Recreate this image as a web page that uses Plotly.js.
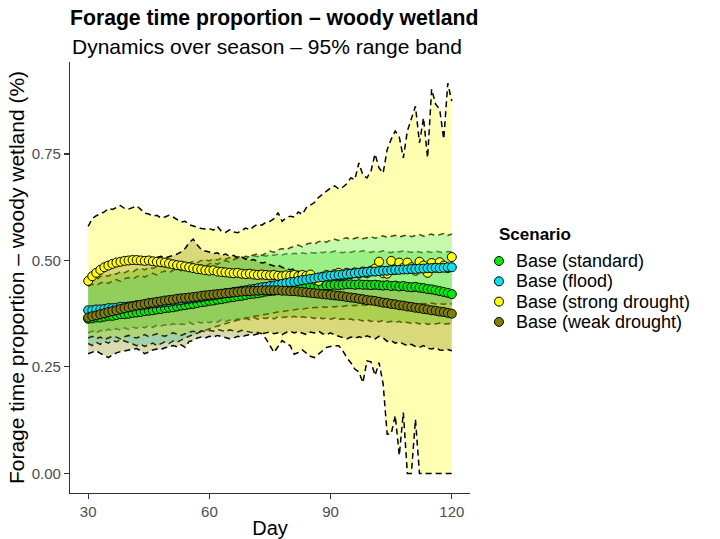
<!DOCTYPE html>
<html>
<head>
<meta charset="utf-8">
<script src="https://cdn.plot.ly/plotly-3.0.1.min.js"></script>
<style>html,body{margin:0;padding:0;background:#fff;}#chart{width:720px;height:539px;}</style>
</head>
<body>
<div id="chart"></div>
<script>
// ---- Data ----
const days = [];
for (let d = 30; d <= 120; d++) days.push(d);

const scenarios = ["Base (standard)", "Base (flood)", "Base (strong drought)", "Base (weak drought)"];
const xTicks = [30, 60, 90, 120];
const yTicks = [0, 0.25, 0.5, 0.75];
const yTickText = ["0.00", "0.25", "0.50", "0.75"];

// Base (standard)
const stdMean = [
0.363,0.364,0.366,0.366,0.368,0.370,0.370,0.372,0.374,0.374,
0.375,0.377,0.378,0.379,0.381,0.382,0.383,0.385,0.386,0.388,
0.389,0.390,0.392,0.394,0.395,0.397,0.398,0.400,0.402,0.403,
0.405,0.406,0.408,0.409,0.411,0.413,0.414,0.416,0.417,0.419,
0.421,0.422,0.423,0.425,0.427,0.428,0.429,0.431,0.432,0.434,
0.435,0.436,0.437,0.438,0.439,0.440,0.440,0.441,0.441,0.442,
0.442,0.443,0.442,0.443,0.444,0.444,0.443,0.444,0.443,0.443,
0.442,0.443,0.442,0.441,0.442,0.440,0.441,0.439,0.440,0.438,
0.437,0.438,0.436,0.435,0.433,0.432,0.430,0.428,0.426,0.424,
0.421];
const stdLo = [
0.330,0.334,0.329,0.336,0.333,0.339,0.335,0.340,0.336,0.342,
0.338,0.343,0.341,0.344,0.342,0.347,0.343,0.348,0.346,0.349,
0.347,0.352,0.348,0.351,0.350,0.355,0.350,0.356,0.353,0.357,
0.354,0.358,0.355,0.361,0.357,0.360,0.359,0.363,0.360,0.364,
0.361,0.366,0.362,0.365,0.364,0.367,0.363,0.368,0.366,0.368,
0.366,0.369,0.365,0.368,0.366,0.367,0.364,0.367,0.363,0.365,
0.362,0.365,0.361,0.363,0.360,0.363,0.359,0.361,0.358,0.361,
0.357,0.359,0.356,0.359,0.355,0.357,0.354,0.357,0.353,0.355,
0.352,0.354,0.351,0.354,0.350,0.352,0.351,0.353,0.350,0.352,
0.351];
const stdHi = [
0.452,0.458,0.455,0.462,0.466,0.463,0.470,0.468,0.474,0.471,
0.476,0.473,0.479,0.482,0.478,0.484,0.481,0.486,0.489,0.485,
0.490,0.487,0.493,0.491,0.496,0.494,0.498,0.495,0.500,0.502,
0.499,0.504,0.501,0.506,0.503,0.507,0.505,0.509,0.506,0.510,
0.508,0.511,0.509,0.513,0.510,0.514,0.512,0.515,0.513,0.516,
0.514,0.517,0.515,0.518,0.516,0.519,0.517,0.520,0.518,0.521,
0.519,0.522,0.520,0.518,0.521,0.519,0.522,0.520,0.523,0.521,
0.519,0.522,0.520,0.523,0.521,0.518,0.522,0.520,0.523,0.521,
0.519,0.522,0.520,0.518,0.521,0.519,0.522,0.520,0.518,0.521,
0.520];

// Base (flood)
const floodMean = [
0.383,0.383,0.385,0.385,0.386,0.388,0.388,0.389,0.391,0.391,
0.392,0.393,0.395,0.395,0.396,0.398,0.399,0.400,0.401,0.402,
0.403,0.405,0.406,0.407,0.409,0.410,0.411,0.413,0.414,0.416,
0.417,0.418,0.420,0.421,0.423,0.424,0.426,0.427,0.429,0.430,
0.432,0.433,0.435,0.437,0.438,0.440,0.441,0.443,0.445,0.447,
0.449,0.450,0.452,0.454,0.455,0.457,0.458,0.460,0.461,0.463,
0.464,0.465,0.466,0.467,0.468,0.469,0.470,0.471,0.472,0.473,
0.474,0.474,0.475,0.476,0.476,0.477,0.478,0.478,0.479,0.479,
0.480,0.480,0.481,0.481,0.482,0.482,0.483,0.482,0.483,0.484,
0.484];
const floodLo = [
0.305,0.300,0.308,0.303,0.310,0.306,0.312,0.309,0.314,0.311,
0.308,0.304,0.300,0.303,0.298,0.302,0.306,0.300,0.304,0.309,
0.305,0.311,0.308,0.314,0.318,0.322,0.326,0.330,0.333,0.336,
0.340,0.343,0.346,0.349,0.352,0.355,0.357,0.360,0.362,0.365,
0.366,0.369,0.370,0.372,0.374,0.376,0.377,0.379,0.380,0.382,
0.383,0.384,0.386,0.385,0.388,0.387,0.390,0.389,0.391,0.390,
0.392,0.391,0.393,0.392,0.394,0.393,0.395,0.394,0.396,0.395,
0.397,0.396,0.398,0.397,0.396,0.398,0.397,0.399,0.398,0.397,
0.399,0.398,0.397,0.399,0.398,0.400,0.398,0.399,0.397,0.399,
0.398];
const floodHi = [
0.440,0.444,0.441,0.447,0.450,0.446,0.452,0.455,0.451,0.457,
0.460,0.456,0.462,0.465,0.461,0.467,0.470,0.466,0.472,0.475,
0.471,0.477,0.480,0.476,0.482,0.485,0.481,0.487,0.490,0.486,
0.492,0.495,0.491,0.497,0.500,0.496,0.502,0.505,0.508,0.504,
0.510,0.513,0.516,0.512,0.518,0.522,0.519,0.525,0.528,0.524,
0.530,0.533,0.536,0.532,0.538,0.541,0.538,0.544,0.546,0.543,
0.548,0.550,0.547,0.551,0.553,0.549,0.552,0.555,0.551,0.554,
0.556,0.552,0.555,0.558,0.554,0.557,0.559,0.555,0.558,0.560,
0.556,0.559,0.561,0.557,0.560,0.562,0.558,0.561,0.563,0.559,
0.562];

// Base (strong drought)
const strongMean = [
0.452,0.463,0.471,0.478,0.484,0.488,0.492,0.495,0.497,0.499,
0.500,0.501,0.501,0.500,0.499,0.500,0.498,0.497,0.496,0.495,
0.493,0.491,0.489,0.488,0.486,0.484,0.482,0.480,0.479,0.477,
0.476,0.477,0.474,0.473,0.472,0.471,0.470,0.471,0.469,0.468,
0.469,0.467,0.466,0.467,0.466,0.465,0.466,0.464,0.463,0.465,
0.464,0.466,0.463,0.466,0.464,0.467,0.455,0.452,0.462,0.466,
0.462,0.468,0.471,0.466,0.471,0.468,0.472,0.469,0.474,0.470,
0.476,0.481,0.497,0.470,0.469,0.499,0.478,0.495,0.483,0.495,
0.484,0.476,0.497,0.488,0.471,0.494,0.483,0.496,0.488,0.482,
0.508];
const strongLo = [
0.318,0.322,0.316,0.320,0.314,0.318,0.322,0.320,0.316,0.321,
0.324,0.320,0.318,0.322,0.326,0.321,0.325,0.328,0.324,0.322,
0.326,0.330,0.327,0.324,0.328,0.332,0.334,0.330,0.335,0.333,
0.336,0.334,0.338,0.335,0.333,0.337,0.335,0.332,0.336,0.334,
0.333,0.330,0.331,0.328,0.316,0.300,0.284,0.298,0.312,0.305,
0.300,0.280,0.284,0.290,0.282,0.275,0.272,0.280,0.290,0.296,
0.298,0.300,0.300,0.288,0.272,0.260,0.245,0.238,0.213,0.264,
0.262,0.230,0.260,0.210,0.092,0.093,0.136,0.042,0.143,0.000,
0.000,0.127,0.000,0.000,0.000,0.000,0.000,0.000,0.000,0.000,
0.000];
const strongHi = [
0.580,0.598,0.605,0.610,0.614,0.622,0.620,0.624,0.629,0.622,
0.621,0.624,0.628,0.620,0.611,0.609,0.604,0.606,0.600,0.602,
0.606,0.602,0.596,0.590,0.592,0.584,0.581,0.578,0.575,0.574,
0.575,0.571,0.580,0.568,0.566,0.572,0.567,0.565,0.570,0.576,
0.572,0.580,0.585,0.583,0.590,0.592,0.598,0.612,0.592,0.600,
0.604,0.602,0.614,0.608,0.624,0.630,0.636,0.648,0.655,0.664,
0.670,0.675,0.668,0.672,0.680,0.694,0.690,0.729,0.700,0.694,
0.710,0.750,0.717,0.705,0.760,0.785,0.804,0.790,0.741,0.804,
0.835,0.862,0.776,0.835,0.741,0.902,0.867,0.855,0.785,0.916,
0.874];

// Base (weak drought)
const weakMean = [
0.366,0.369,0.371,0.374,0.376,0.379,0.381,0.383,0.386,0.388,
0.390,0.392,0.394,0.396,0.398,0.400,0.401,0.403,0.404,0.406,
0.407,0.408,0.410,0.411,0.412,0.413,0.414,0.415,0.417,0.418,
0.419,0.420,0.421,0.422,0.423,0.424,0.425,0.426,0.427,0.428,
0.428,0.429,0.429,0.430,0.430,0.430,0.430,0.430,0.429,0.429,
0.428,0.428,0.427,0.426,0.425,0.424,0.423,0.422,0.421,0.420,
0.419,0.418,0.417,0.416,0.414,0.413,0.412,0.410,0.409,0.407,
0.406,0.405,0.403,0.401,0.400,0.398,0.397,0.395,0.394,0.392,
0.391,0.389,0.388,0.386,0.385,0.383,0.382,0.380,0.379,0.377,
0.375];
const weakLo = [
0.281,0.285,0.288,0.282,0.276,0.272,0.278,0.283,0.286,0.288,
0.290,0.292,0.293,0.288,0.281,0.285,0.290,0.292,0.291,0.295,
0.298,0.300,0.297,0.302,0.296,0.310,0.312,0.318,0.320,0.318,
0.322,0.320,0.324,0.321,0.318,0.316,0.318,0.322,0.320,0.324,
0.326,0.325,0.328,0.328,0.330,0.332,0.328,0.330,0.326,0.331,
0.334,0.330,0.333,0.329,0.326,0.332,0.330,0.334,0.328,0.326,
0.330,0.325,0.322,0.318,0.316,0.320,0.317,0.321,0.318,0.323,
0.320,0.316,0.322,0.318,0.310,0.312,0.306,0.309,0.304,0.300,
0.303,0.298,0.296,0.300,0.294,0.292,0.295,0.290,0.289,0.291,
0.288];
const weakHi = [
0.440,0.452,0.463,0.470,0.478,0.486,0.490,0.494,0.498,0.502,
0.500,0.503,0.506,0.502,0.505,0.508,0.504,0.507,0.510,0.506,
0.509,0.512,0.515,0.520,0.528,0.542,0.550,0.536,0.526,0.522,
0.520,0.516,0.518,0.512,0.515,0.510,0.512,0.506,0.508,0.503,
0.500,0.502,0.497,0.494,0.496,0.490,0.487,0.489,0.484,0.481,
0.478,0.480,0.475,0.472,0.474,0.469,0.466,0.468,0.463,0.460,
0.458,0.460,0.455,0.452,0.454,0.450,0.447,0.449,0.445,0.443,
0.444,0.440,0.442,0.438,0.436,0.438,0.434,0.432,0.434,0.430,
0.428,0.430,0.426,0.427,0.424,0.425,0.422,0.423,0.420,0.421,
0.420];

// ---- Styles ----
const colors = {
  "Base (standard)": "#00EE00",
  "Base (flood)": "#00E5EE",
  "Base (strong drought)": "#FFFF00",
  "Base (weak drought)": "#808000"
};
const fills = {
  "Base (standard)": "rgba(0,205,0,0.35)",
  "Base (flood)": "rgba(0,229,238,0.33)",
  "Base (strong drought)": "rgba(255,255,0,0.3)",
  "Base (weak drought)": "rgba(128,128,0,0.3)"
};
const bands = {
  "Base (standard)": [stdLo, stdHi],
  "Base (flood)": [floodLo, floodHi],
  "Base (strong drought)": [strongLo, strongHi],
  "Base (weak drought)": [weakLo, weakHi]
};
const means = {
  "Base (standard)": stdMean,
  "Base (flood)": floodMean,
  "Base (strong drought)": strongMean,
  "Base (weak drought)": weakMean
};

const dashLine = {color: "black", width: 1.5, dash: "6px,4px"};
const traces = [];
scenarios.forEach(s => {
  traces.push({x: days, y: bands[s][0], type: "scatter", mode: "lines", line: dashLine,
    showlegend: false, hoverinfo: "skip", name: s + " low"});
  traces.push({x: days, y: bands[s][1], type: "scatter", mode: "lines", line: dashLine,
    fill: "tonexty", fillcolor: fills[s], showlegend: false, hoverinfo: "skip", name: s + " high"});
});
const pointOrder = ["Base (standard)", "Base (strong drought)", "Base (flood)", "Base (weak drought)"];
pointOrder.forEach(s => {
  traces.push({x: days, y: means[s], type: "scatter", mode: "markers", name: s, showlegend: false,
    marker: {size: 9, color: colors[s], line: {color: "black", width: 1}}});
});

// Plot area: x 70..470, y 62..493 px
const L = 70, T = 62, W = 400, H = 431;
const px = x => (x - L) / W;
const py = y => (T + H - y) / H;
const FONT = "Liberation Sans, Arial, sans-serif";

const annotations = [
  {text: "Dynamics over season \u2013 95% range band", xref: "paper", yref: "paper",
   x: 0, y: py(46), xanchor: "left", yanchor: "middle", showarrow: false,
   font: {family: FONT, size: 21, color: "black"}},
  {text: "<b>Scenario</b>", xref: "paper", yref: "paper", x: px(497), y: py(234),
   xanchor: "left", yanchor: "middle", showarrow: false,
   font: {family: FONT, size: 17, color: "black"}}
];
const legendY = [261, 281.3, 301.6, 321.9];
const shapes = [];
scenarios.forEach((s, i) => {
  annotations.push({text: s, xref: "paper", yref: "paper", x: px(514), y: py(legendY[i]),
    xanchor: "left", yanchor: "middle", showarrow: false,
    font: {family: FONT, size: 18, color: "black"}});
  shapes.push({type: "circle", xref: "paper", yref: "paper", xsizemode: "pixel", ysizemode: "pixel",
    xanchor: px(499), yanchor: py(legendY[i]), x0: -4.5, x1: 4.5, y0: -4.5, y1: 4.5,
    fillcolor: colors[s], line: {color: "black", width: 1}});
});

const layout = {
  width: 720, height: 539,
  margin: {l: L, r: 720 - L - W, t: T, b: 539 - T - H, pad: 0},
  paper_bgcolor: "white", plot_bgcolor: "white",
  font: {family: FONT, color: "black"},
  title: {text: "<b>Forage time proportion \u2013 woody wetland</b>", xref: "paper", x: 0, xanchor: "left",
    yref: "container", y: 1 - 18 / 539, yanchor: "middle",
    font: {family: FONT, size: 21.2, color: "black"}},
  xaxis: {range: [25.5, 124.5], tickvals: xTicks, ticktext: xTicks.map(String),
    showgrid: false, zeroline: false, showline: true, linecolor: "#333333", linewidth: 1.1,
    ticks: "outside", ticklen: 5, tickwidth: 1.1, tickcolor: "#333333",
    tickfont: {size: 15, color: "#4D4D4D"},
    title: {text: "Day", font: {size: 20, color: "black"}, standoff: 3}},
  yaxis: {range: [-0.046, 0.966], tickvals: yTicks, ticktext: yTickText,
    showgrid: false, zeroline: false, showline: true, linecolor: "#333333", linewidth: 1.1,
    ticks: "outside", ticklen: 5, tickwidth: 1.1, tickcolor: "#333333",
    tickfont: {size: 15, color: "#4D4D4D"},
    title: {text: "Forage time proportion \u2013 woody wetland (%)", font: {size: 21, color: "black"}, standoff: 1}},
  showlegend: false,
  annotations: annotations,
  shapes: shapes
};

Plotly.newPlot("chart", traces, layout, {displayModeBar: false, staticPlot: true});
</script>
</body>
</html>
